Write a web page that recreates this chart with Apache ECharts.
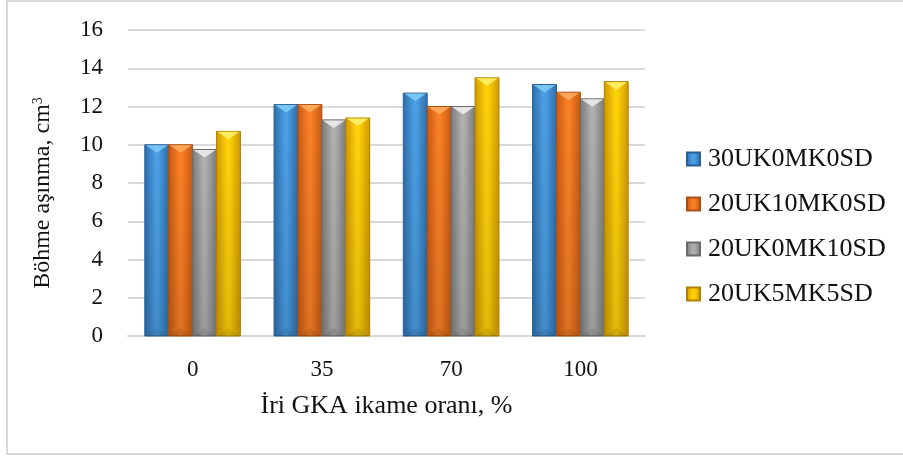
<!DOCTYPE html>
<html>
<head>
<meta charset="utf-8">
<script src="https://cdn.jsdelivr.net/npm/echarts@6/dist/echarts.min.js"></script>
<style>
  html, body { margin: 0; padding: 0; background: #fff; }
  #chart { width: 903px; height: 457px; }
</style>
</head>
<body>
<div id="chart"></div>
<script>
// Coarse aggregate replacement ratio (%) on the x axis
const categories = ['0', '35', '70', '100'];

// Böhme abrasion loss (cm³) for each binder mix
const seriesNames = ['30UK0MK0SD', '20UK10MK0SD', '20UK0MK10SD', '20UK5MK5SD'];
const uk30 = [10.0, 12.1, 12.7, 13.15];
const uk20mk10 = [10.0, 12.1, 12.0, 12.75];
const uk20sd10 = [9.75, 11.3, 12.0, 12.4];
const uk20mk5sd5 = [10.7, 11.4, 13.5, 13.3];

const yTicks = { min: 0, max: 16, interval: 2 };

const values = [uk30, uk20mk10, uk20sd10, uk20mk5sd5];

// Edge / centre / edge colours, bevel highlight and outline for each mix
const palettes = [
  { edge: '#2c6cab', mid: '#4c9fe4', top: '#7ccaf4', line: '#2a5f94' },
  { edge: '#c65810', mid: '#fb8126', top: '#ffab5c', line: '#a9500f' },
  { edge: '#7a7a7a', mid: '#b0b0b0', top: '#ececec', line: '#6a6a6a' },
  { edge: '#cf9700', mid: '#ffd20a', top: '#fff06a', line: '#ad8200' }
];

const FONT = '"Liberation Serif", "Times New Roman", serif';
const GROUP_SHARE = 0.74;   // part of each category band taken by its four bars

function sideGradient(p) {
  return new echarts.graphic.LinearGradient(0, 0, 1, 0, [
    { offset: 0, color: p.edge },
    { offset: 0.45, color: p.mid },
    { offset: 0.55, color: p.mid },
    { offset: 1, color: p.edge }
  ]);
}

function makeRenderer(sIdx, p) {
  return function (params, api) {
    const cat = api.value(0);
    const val = api.value(1);
    const base = api.coord([cat, 0]);
    const top = api.coord([cat, val]);
    const band = api.size([1, 0])[0];
    const groupW = band * GROUP_SHARE;
    const bw = groupW / seriesNames.length;
    const x0 = base[0] - groupW / 2 + sIdx * bw;
    const h = base[1] - top[1];
    const bevel = Math.min(8, h / 2);
    return {
      type: 'group',
      children: [
        {
          type: 'rect',
          shape: { x: x0, y: top[1], width: bw, height: h },
          style: { fill: sideGradient(p), stroke: p.line, lineWidth: 1 }
        },
        {
          // darkening toward the base
          type: 'rect',
          shape: { x: x0 + 0.5, y: top[1], width: bw - 1, height: h },
          style: {
            fill: new echarts.graphic.LinearGradient(0, 0, 0, 1, [
              { offset: 0, color: 'rgba(0,0,0,0)' },
              { offset: 1, color: 'rgba(0,0,0,0.12)' }
            ])
          }
        },
        {
          // light bevel on the top face
          type: 'polygon',
          shape: { points: [[x0 + 1, top[1] + 0.5], [x0 + bw - 1, top[1] + 0.5], [x0 + bw / 2, top[1] + bevel]] },
          style: { fill: p.top, opacity: 0.9 }
        },
        {
          // shadowed bevel at the base
          type: 'polygon',
          shape: { points: [[x0 + 1, base[1]], [x0 + bw - 1, base[1]], [x0 + bw / 2, base[1] - bevel]] },
          style: { fill: 'rgba(0,0,0,0.08)' }
        }
      ]
    };
  };
}

const series = values.map((data, i) => ({
  name: seriesNames[i],
  type: 'custom',
  renderItem: makeRenderer(i, palettes[i]),
  encode: { x: 0, y: 1 },
  itemStyle: { color: sideGradient(palettes[i]), borderColor: palettes[i].line, borderWidth: 1 },
  data: data.map((v, c) => [c, v])
}));

const chart = echarts.init(document.getElementById('chart'));
chart.setOption({
  animation: false,
  backgroundColor: '#ffffff',
  textStyle: { fontFamily: FONT },
  grid: { left: 128, right: 258, top: 30, bottom: 121 },
  graphic: [{
    type: 'rect',
    shape: { x: 7, y: 1, width: 910, height: 453 },
    style: { fill: 'none', stroke: '#d9d9d9', lineWidth: 2 },
    silent: true
  }],
  legend: {
    orient: 'vertical',
    left: 686,
    top: 146,
    padding: 0,
    itemWidth: 13,
    itemHeight: 13,
    itemGap: 19,
    icon: 'rect',
    textStyle: { fontFamily: FONT, fontSize: 26, color: '#111', lineHeight: 26, padding: [0, 0, 0, 3] },
    data: seriesNames
  },
  xAxis: {
    type: 'category',
    data: categories,
    axisLine: { show: true, lineStyle: { color: '#d9d9d9', width: 2 } },
    axisTick: { show: false },
    axisLabel: { fontFamily: FONT, fontSize: 23, color: '#111', margin: 22 },
    name: 'İri GKA ikame oranı, %',
    nameLocation: 'middle',
    nameGap: 57,
    nameTextStyle: { fontFamily: FONT, fontSize: 26, color: '#111' }
  },
  yAxis: {
    type: 'value',
    min: yTicks.min,
    max: yTicks.max,
    interval: yTicks.interval,
    axisLine: { show: false },
    axisTick: { show: false },
    splitLine: { lineStyle: { color: '#d9d9d9', width: 2 } },
    axisLabel: { fontFamily: FONT, fontSize: 23, color: '#111', margin: 25 },
    name: 'Böhme aşınma, cm{sup|3}',
    nameLocation: 'middle',
    nameGap: 73,
    nameRotate: 90,
    nameTextStyle: {
      fontFamily: FONT, fontSize: 24, color: '#111',
      padding: [0, 20, 0, 0],
      rich: { sup: { fontFamily: FONT, fontSize: 14, color: '#111', verticalAlign: 'top', padding: [0, 0, 8, 0] } }
    }
  },
  series: series
});
</script>
</body>
</html>
